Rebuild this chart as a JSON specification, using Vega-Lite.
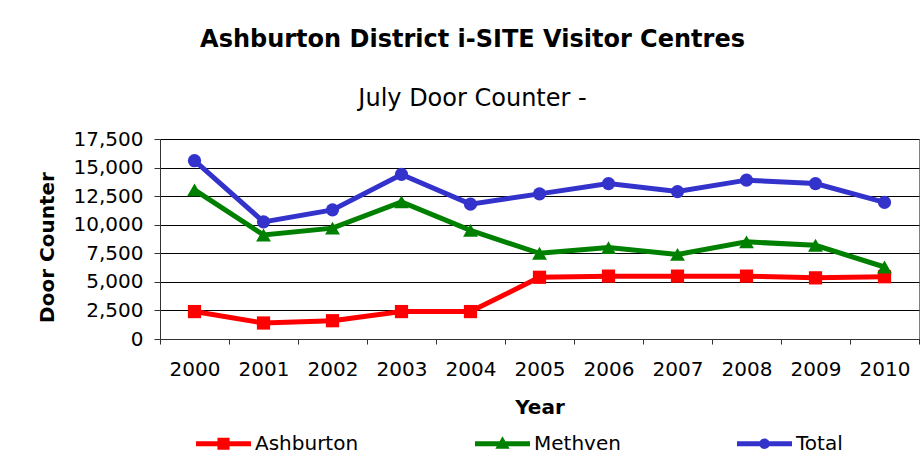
{
  "$schema": "https://vega.github.io/schema/vega-lite/v6.json",
  "width": 759,
  "height": 200,
  "autosize": {"type": "none"},
  "padding": {"left": 160, "top": 139, "right": 4, "bottom": 127},
  "background": "white",
  "config": {
    "view": {"stroke": "#808080", "strokeWidth": 1},
    "font": "DejaVu Sans"
  },
  "title": {
    "text": "Ashburton District i-SITE Visitor Centres",
    "subtitle": "July Door Counter -",
    "anchor": "middle",
    "frame": "group",
    "dx": -67,
    "font": "DejaVu Sans",
    "fontSize": 24,
    "fontWeight": "bold",
    "color": "black",
    "subtitleFont": "DejaVu Sans",
    "subtitleFontSize": 24,
    "subtitleColor": "black",
    "subtitlePadding": 35,
    "offset": 18
  },
  "data": {
    "values": [
      {"Year": "2000", "Series": "Ashburton", "Count": 2400},
      {"Year": "2001", "Series": "Ashburton", "Count": 1400},
      {"Year": "2002", "Series": "Ashburton", "Count": 1600},
      {"Year": "2003", "Series": "Ashburton", "Count": 2400},
      {"Year": "2004", "Series": "Ashburton", "Count": 2400},
      {"Year": "2005", "Series": "Ashburton", "Count": 5400},
      {"Year": "2006", "Series": "Ashburton", "Count": 5500},
      {"Year": "2007", "Series": "Ashburton", "Count": 5500},
      {"Year": "2008", "Series": "Ashburton", "Count": 5500},
      {"Year": "2009", "Series": "Ashburton", "Count": 5350},
      {"Year": "2010", "Series": "Ashburton", "Count": 5450},
      {"Year": "2000", "Series": "Methven", "Count": 13050},
      {"Year": "2001", "Series": "Methven", "Count": 9100},
      {"Year": "2002", "Series": "Methven", "Count": 9700},
      {"Year": "2003", "Series": "Methven", "Count": 12000},
      {"Year": "2004", "Series": "Methven", "Count": 9500},
      {"Year": "2005", "Series": "Methven", "Count": 7500},
      {"Year": "2006", "Series": "Methven", "Count": 8000},
      {"Year": "2007", "Series": "Methven", "Count": 7400},
      {"Year": "2008", "Series": "Methven", "Count": 8500},
      {"Year": "2009", "Series": "Methven", "Count": 8200},
      {"Year": "2010", "Series": "Methven", "Count": 6300},
      {"Year": "2000", "Series": "Total", "Count": 15600},
      {"Year": "2001", "Series": "Total", "Count": 10250},
      {"Year": "2002", "Series": "Total", "Count": 11300},
      {"Year": "2003", "Series": "Total", "Count": 14400},
      {"Year": "2004", "Series": "Total", "Count": 11800},
      {"Year": "2005", "Series": "Total", "Count": 12700},
      {"Year": "2006", "Series": "Total", "Count": 13600},
      {"Year": "2007", "Series": "Total", "Count": 12900},
      {"Year": "2008", "Series": "Total", "Count": 13900},
      {"Year": "2009", "Series": "Total", "Count": 13600},
      {"Year": "2010", "Series": "Total", "Count": 11950}
    ]
  },
  "encoding": {
    "x": {
      "field": "Year",
      "type": "ordinal",
      "bandPosition": 0.5,
      "scale": {"type": "band", "paddingInner": 0, "paddingOuter": 0},
      "axis": {
        "title": "Year",
        "titleFont": "DejaVu Sans",
        "titleFontSize": 20,
        "titleFontWeight": "bold",
        "titleColor": "black",
        "titlePadding": 18,
        "labelFont": "DejaVu Sans",
        "labelFontSize": 20,
        "labelColor": "black",
        "labelAngle": 0,
        "labelPadding": 15,
        "tickBand": "extent",
        "tickSize": 5,
        "tickColor": "#333333",
        "domainColor": "#333333",
        "grid": false
      }
    },
    "y": {
      "field": "Count",
      "type": "quantitative",
      "scale": {"domain": [0, 17500], "nice": false},
      "axis": {
        "title": "Door Counter",
        "titleFont": "DejaVu Sans",
        "titleFontSize": 20,
        "titleFontWeight": "bold",
        "titleColor": "black",
        "titlePadding": 16,
        "titleY": 108,
        "values": [0, 2500, 5000, 7500, 10000, 12500, 15000, 17500],
        "format": ",.0f",
        "labelFont": "DejaVu Sans",
        "labelFontSize": 20,
        "labelColor": "black",
        "labelPadding": 11,
        "tickSize": 6,
        "tickColor": "#333333",
        "domainColor": "#333333",
        "grid": true,
        "gridColor": "#000000",
        "gridWidth": 1,
        "gridOpacity": 1
      }
    },
    "color": {
      "field": "Series",
      "type": "nominal",
      "scale": {
        "domain": ["Ashburton", "Methven", "Total"],
        "range": ["#FF0000", "#008000", "#3333CC"]
      },
      "legend": {
        "orient": "none",
        "legendX": 36,
        "legendY": 277,
        "direction": "horizontal",
        "title": null,
        "labelFont": "DejaVu Sans",
        "labelFontSize": 20,
        "labelColor": "black",
        "labelOffset": 4,
        "symbolSize": 3025,
        "symbolStrokeWidth": 0,
        "columnPadding": 116,
        "encode": {
          "symbols": {
            "update": {
              "shape": {"signal": "datum.value === 'Ashburton' ? 'M-1,-0.09H1V0.09H-1Z M-0.22,-0.22H0.22V0.22H-0.22Z' : datum.value === 'Methven' ? 'M-1,-0.09H1V0.09H-1Z M0,-0.27L0.26,0.18H-0.26Z' : 'M-1,-0.09H1V0.09H-1Z M0.19,0A0.19,0.19 0 1,1 -0.19,0A0.19,0.19 0 1,1 0.19,0Z'"},
              "fill": {"signal": "datum.value === 'Ashburton' ? '#FF0000' : datum.value === 'Methven' ? '#008000' : '#3333CC'"},
              "fillOpacity": {"value": 1},
              "opacity": {"value": 1},
              "strokeWidth": {"value": 0}
            }
          }
        }
      }
    }
  },
  "layer": [
    {"mark": {"type": "line", "strokeWidth": 5}},
    {
      "transform": [{"filter": "datum.Series === 'Ashburton'"}],
      "mark": {"type": "point", "shape": "square", "filled": true, "opacity": 1, "size": 175}
    },
    {
      "transform": [{"filter": "datum.Series === 'Methven'"}],
      "mark": {"type": "point", "shape": "triangle-up", "filled": true, "opacity": 1, "size": 220}
    },
    {
      "transform": [{"filter": "datum.Series === 'Total'"}],
      "mark": {"type": "point", "shape": "circle", "filled": true, "opacity": 1, "size": 175}
    }
  ]
}
